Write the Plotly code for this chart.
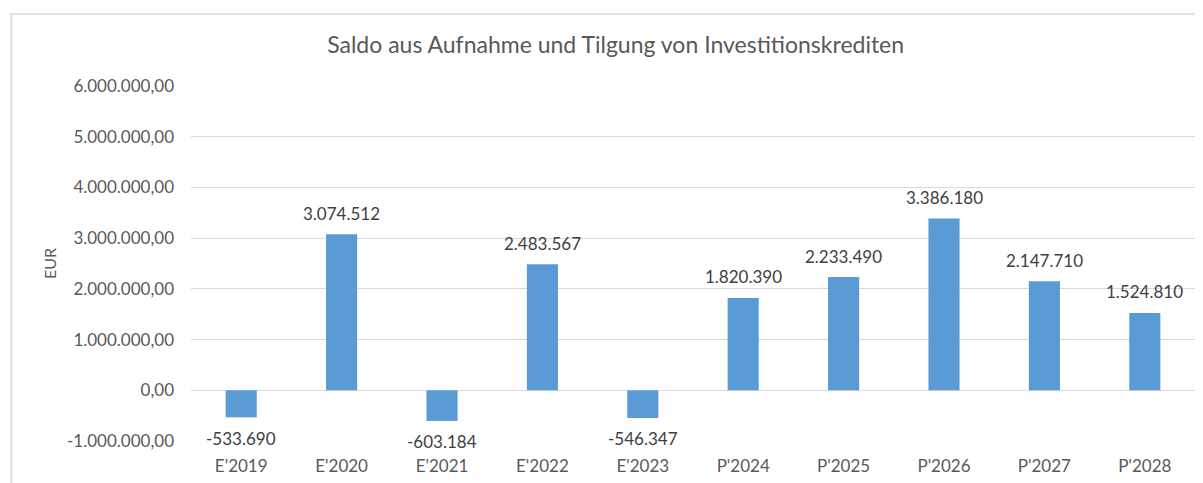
import plotly.graph_objects as go

categories = ["E'2019", "E'2020", "E'2021", "E'2022", "E'2023",
              "P'2024", "P'2025", "P'2026", "P'2027", "P'2028"]
values = [-533690, 3074512, -603184, 2483567, -546347,
          1820390, 2233490, 3386180, 2147710, 1524810]
tick_vals = [-1000000, 0, 1000000, 2000000, 3000000, 4000000, 5000000, 6000000]


def de_int(v):
    s = f"{abs(v):,.0f}".replace(",", ".")
    return ("-" if v < 0 else "") + s


def de_2f(v):
    s = f"{abs(v):,.2f}".replace(",", "X").replace(".", ",").replace("X", ".")
    return ("-" if v < 0 else "") + s


FONT = "Lato"
GREY = "#595959"

fig = go.Figure(go.Bar(
    x=categories, y=values,
    marker=dict(color="#5b9bd5", line=dict(width=0)),
    hoverinfo="x+y",
))

annotations = [
    dict(x=c, y=v, xref="x", yref="y", text=de_int(v), showarrow=False,
         yanchor="middle", yshift=21 if v >= 0 else -21,
         font=dict(family=FONT, size=17, color="#404040"))
    for c, v in zip(categories, values)
]

fig.update_layout(
    width=1195, height=475,
    paper_bgcolor="white", plot_bgcolor="white",
    margin=dict(l=183, r=8, t=78, b=42),
    showlegend=False,
    bargap=0.69,
    title=dict(text="Saldo aus Aufnahme und Tilgung von Investitionskrediten",
               x=0.5085, xanchor="center", y=0.922, yanchor="middle",
               font=dict(family=FONT, size=23, color=GREY)),
    font=dict(family=FONT, color=GREY),
    xaxis=dict(showgrid=False, showline=False, zeroline=False,
               tickfont=dict(family=FONT, size=17, color=GREY), ticks="",
               ticklabelstandoff=13),
    yaxis=dict(range=[-1000000, 6000000], tickvals=tick_vals,
               ticktext=[de_2f(v) for v in tick_vals],
               showgrid=True, gridcolor="#d9d9d9", gridwidth=1,
               zeroline=False, showline=False, ticks="",
               ticklabelstandoff=16,
               tickfont=dict(family=FONT, size=17, color=GREY),
               title=dict(text="EUR", font=dict(family=FONT, size=16, color=GREY),
                          standoff=6)),
    annotations=annotations,
    shapes=[dict(type="rect", xref="paper", yref="paper",
                 x0=-0.179, x1=1.1, y0=-0.3, y1=1.203,
                 line=dict(color="#d9d9d9", width=1.5))],
)

fig.write_html("out.html")
